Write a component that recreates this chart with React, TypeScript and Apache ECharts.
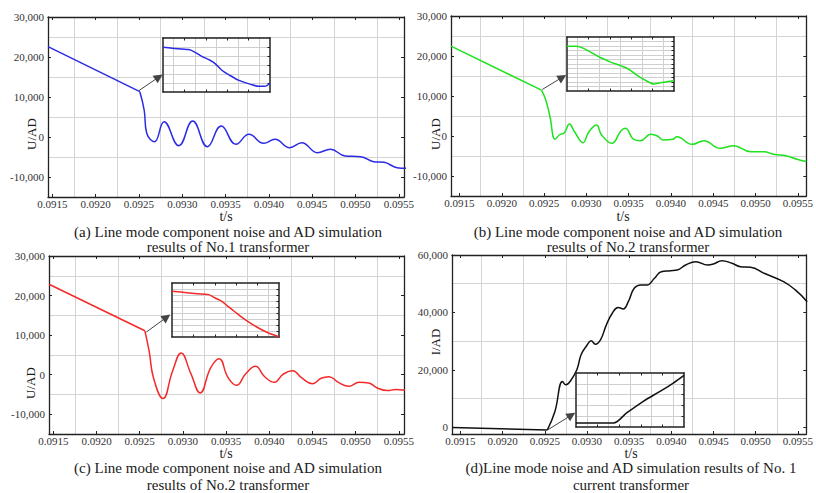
import React, { useEffect, useRef } from 'react';
import * as echarts from 'echarts';

const SERIF = 'Liberation Serif, Times New Roman, serif';
const GRID_C = '#d4d4d4';
const AXIS_C = '#222';

// shared tick values
const X_LABELS = [0.0915, 0.092, 0.0925, 0.093, 0.0935, 0.094, 0.0945, 0.095, 0.0955];
const X_GRID = [0.09175, 0.09225, 0.09275, 0.09325, 0.09375, 0.09425, 0.09475, 0.09525];
const U_LABELS = [-10000, 0, 10000, 20000, 30000];
const U_GRID = [-5000, 5000, 15000, 25000];
const I_LABELS = [0, 20000, 40000, 60000];
const I_GRID = [10000, 30000, 50000];

// (a) No.1 transformer
const A_T_PRE = [0.09145, 0.09251];
const A_U_PRE = [22580, 11330];
const A_T = [0.09251, 0.09256, 0.09259, 0.09268, 0.09279, 0.09296, 0.09312, 0.09329, 0.09345, 0.09362, 0.09377, 0.09394, 0.09407, 0.09424, 0.09438, 0.09456, 0.09471, 0.09488, 0.09506, 0.09521, 0.09533, 0.09548, 0.0956];
const A_U = [11330, 6750, 925, -1170, 3830, -2170, 4000, -2420, 2750, -1830, 670, -1580, -580, -2670, -1420, -3920, -3080, -4750, -4920, -6170, -6330, -7670, -7830];

// (b) No.2 transformer
const B_T_PRE = [0.0914, 0.09247];
const B_U_PRE = [22450, 11470];
const B_T = [0.09247, 0.09252, 0.09257, 0.09263, 0.09268, 0.09274, 0.0928, 0.09286, 0.09296, 0.09303, 0.09312, 0.09318, 0.0933, 0.09341, 0.09346, 0.09356, 0.09364, 0.09376, 0.09384, 0.09391, 0.09402, 0.09407, 0.09425, 0.09439, 0.09458, 0.09474, 0.09494, 0.0951, 0.09521, 0.09537, 0.09549, 0.0956];
const B_U = [11470, 8980, 4810, -830, 250, 830, 2990, 1070, -1670, 1070, 2740, 250, -1830, 1320, 1910, -830, -1160, 420, 0, -1000, -830, -170, -2080, -1160, -3080, -2410, -3910, -3910, -4570, -4990, -5810, -6400];

// (c) No.2 transformer
const C_T_PRE = [0.09145, 0.09256];
const C_U_PRE = [22850, 11090];
const C_T = [0.09256, 0.09261, 0.09266, 0.09277, 0.09288, 0.09298, 0.09309, 0.0932, 0.09332, 0.09342, 0.09352, 0.09362, 0.09373, 0.09384, 0.09395, 0.09406, 0.09416, 0.09427, 0.09438, 0.0945, 0.0946, 0.09469, 0.0948, 0.09492, 0.09504, 0.09515, 0.09525, 0.09537, 0.09546, 0.09557];
const C_U = [11090, 5880, -840, -6050, 840, 5470, 400, -4620, 1680, 4030, -600, -2690, 300, 2100, -600, -1930, 100, 1010, -900, -2270, -900, -500, -1930, -2940, -1930, -2100, -3360, -4030, -3780, -3950];

// (d) No.1 current transformer
const D_T_PRE = [0.0914, 0.09253];
const D_I_PRE = [0, -900];
const D_T = [0.09253, 0.09262, 0.09271, 0.09275, 0.0928, 0.09288, 0.09293, 0.09299, 0.09305, 0.0931, 0.09316, 0.09323, 0.0933, 0.09337, 0.09343, 0.09349, 0.09356, 0.09364, 0.09371, 0.0938, 0.09388, 0.09399, 0.09407, 0.09417, 0.09429, 0.09443, 0.0945, 0.0946, 0.09472, 0.09482, 0.09494, 0.0951, 0.09533, 0.09547, 0.09561];
const D_I = [-900, 5560, 15980, 14830, 15980, 20050, 25260, 28150, 30120, 28960, 30470, 35680, 39740, 41690, 41240, 43770, 48430, 49580, 49580, 51900, 54200, 54550, 54790, 56520, 57670, 56520, 56870, 58020, 57100, 55930, 55720, 53640, 50720, 47840, 43770];

// zoomed insets (relative units)
const IA_X = [0, 0.84, 2.4, 2.88, 3.66, 4.44, 4.9, 5.53, 6.16, 7.1, 8.19, 8.97, 9.44, 9.75, 10];
const IA_Y = [4.97, 4.86, 4.71, 4.49, 3.94, 3.5, 3.13, 2.39, 1.91, 1.29, 0.85, 0.63, 0.63, 0.74, 0.99];
const IB_X = [0, 0.78, 1.4, 2.17, 3.1, 4.04, 5.12, 5.75, 6.52, 7.3, 8.14, 8.7, 9.32, 10];
const IB_Y = [9.94, 9.94, 9.64, 8.69, 7.44, 6.48, 5.52, 4.86, 3.53, 2.43, 1.55, 1.84, 2.06, 2.28];
const IC_X = [0, 1.4, 2.33, 3.42, 4.04, 4.66, 5.12, 5.9, 6.83, 7.92, 9.01, 10];
const IC_Y = [7.61, 7.39, 7.22, 7.06, 6.5, 5.94, 5.28, 4.17, 2.89, 1.67, 0.67, 0.06];
const ID_X = [0, 3.46, 4.69, 6.23, 7.78, 9.01, 10];
const ID_Y = [0.37, 0.37, 1.3, 2.38, 3.3, 4.07, 4.78];

// arrows: [from, to] in data units
const A_ARROW = [[0.0925, 11600], [0.09273, 15000]];
const B_ARROW = [[0.09248, 11650], [0.092717, 14690]];
const C_ARROW = [[0.092576, 10760], [0.092812, 14515]];
const D_ARROW = [[0.092533, -900], [0.092816, 4270]];

const zip = (a: number[], b: number[]) => a.map((v, i) => [v, b[i]]);

function fmtNum(v: number): string {
  if (Math.abs(v) < 1e-9) return '0';
  const s = Math.abs(Math.round(v)).toString().replace(/\B(?=(\d{3})+(?!\d))/g, ',');
  return (v < 0 ? '-' : '') + s;
}

const PANELS = [
  {
    grid: { left: 48, top: 17, width: 356, height: 180 },
    xMin: 0.09145, xMax: 0.09556, yMin: -15000, yMax: 30000,
    yLabels: U_LABELS, yGrid: U_GRID, color: '#2b2be6',
    pre: zip(A_T_PRE, A_U_PRE), post: zip(A_T, A_U), arrow: A_ARROW,
    inset: { left: 163, top: 38, width: 107, height: 54, data: zip(IA_X, IA_Y), yMax: 6 },
    yName: 'U/AD', yNamePos: [31, 134], tPos: [226, 216],
    caption: ['(a) Line mode component noise and AD simulation', 'results of No.1 transformer'],
    capPos: [[228, 232], [228, 246.5]],
  },
  {
    grid: { left: 451, top: 16, width: 357, height: 180 },
    xMin: 0.0914, xMax: 0.0956, yMin: -15000, yMax: 30000,
    yLabels: U_LABELS, yGrid: U_GRID, color: '#1ee21e',
    pre: zip(B_T_PRE, B_U_PRE), post: zip(B_T, B_U), arrow: B_ARROW,
    inset: { left: 567, top: 37, width: 107, height: 54, data: zip(IB_X, IB_Y), yMax: 12 },
    yName: 'U/AD', yNamePos: [435, 134], tPos: [623, 216],
    caption: ['(b) Line mode component noise and AD simulation', 'results of No.2 transformer'],
    capPos: [[628, 232], [628, 246.5]],
  },
  {
    grid: { left: 49, top: 256, width: 355, height: 178 },
    xMin: 0.09145, xMax: 0.09556, yMin: -15000, yMax: 30000,
    yLabels: U_LABELS, yGrid: U_GRID, color: '#f42a2a',
    pre: zip(C_T_PRE, C_U_PRE), post: zip(C_T, C_U), arrow: C_ARROW,
    inset: { left: 172, top: 283, width: 107, height: 54, data: zip(IC_X, IC_Y), yMax: 9 },
    yName: 'U/AD', yNamePos: [30, 383], tPos: [226, 453],
    caption: ['(c) Line mode component noise and AD simulation', 'results of No.2 transformer'],
    capPos: [[228, 468], [228, 485]],
  },
  {
    grid: { left: 452, top: 255, width: 356, height: 179 },
    xMin: 0.0914, xMax: 0.0956, yMin: -2300, yMax: 60000,
    yLabels: I_LABELS, yGrid: I_GRID, color: '#111111',
    pre: zip(D_T_PRE, D_I_PRE), post: zip(D_T, D_I), arrow: D_ARROW,
    inset: { left: 576, top: 373, width: 108, height: 54, data: zip(ID_X, ID_Y), yMax: 5 },
    yName: 'I/AD', yNamePos: [435, 342], tPos: [631, 453],
    caption: ['(d)Line mode noise and AD simulation results of No. 1', 'current transformer'],
    capPos: [[631, 468], [631, 485]],
  },
];

function range(a: number, b: number): number[] {
  const r: number[] = [];
  for (let i = a; i <= b; i++) r.push(i);
  return r;
}

function textEl(text: string, x: number, y: number, size: number, rotation = 0) {
  return {
    type: 'text', x, y, rotation, silent: true,
    style: {
      text, fontFamily: SERIF, fontSize: size, fill: '#1a1a1a',
      textAlign: 'center', textVerticalAlign: 'middle', align: 'center', verticalAlign: 'middle',
    },
  };
}

function buildOption() {
  const grid: any[] = [];
  const xAxis: any[] = [];
  const yAxis: any[] = [];
  const series: any[] = [];
  const graphic: any[] = [];
  const lineSt = { color: AXIS_C, width: 1.3 };
  const tickSt = { color: AXIS_C, width: 1 };

  PANELS.forEach((p) => {
    // ---- main plot ----
    const gi = grid.length;
    grid.push({ ...p.grid, show: false });
    const xi = xAxis.length;
    const bx = { type: 'value', gridIndex: gi, min: p.xMin, max: p.xMax };
    xAxis.push({
      ...bx, position: 'bottom',
      axisLine: { show: true, onZero: false, lineStyle: lineSt },
      axisTick: { show: true, inside: true, length: 3, customValues: X_LABELS, lineStyle: tickSt },
      axisLabel: { show: true, customValues: X_LABELS, formatter: (v: number) => v.toFixed(4), fontFamily: SERIF, fontSize: 11, color: '#333', margin: 1 },
      splitLine: { show: false },
    });
    xAxis.push({
      ...bx, position: 'top',
      axisLine: { show: true, onZero: false, lineStyle: lineSt },
      axisTick: { show: true, inside: true, length: 3, customValues: X_LABELS, lineStyle: tickSt },
      axisLabel: { show: false }, splitLine: { show: false },
    });
    xAxis.push({
      ...bx, position: 'bottom',
      axisLine: { show: false, onZero: false },
      axisTick: { show: false, customValues: X_GRID },
      axisLabel: { show: false },
      splitLine: { show: true, lineStyle: { color: GRID_C, width: 1 } },
    });
    const yi = yAxis.length;
    const by = { type: 'value', gridIndex: gi, min: p.yMin, max: p.yMax };
    yAxis.push({
      ...by, position: 'left',
      axisLine: { show: true, onZero: false, lineStyle: lineSt },
      axisTick: { show: true, inside: true, length: 3, customValues: p.yLabels, lineStyle: tickSt },
      axisLabel: { show: true, customValues: p.yLabels, formatter: fmtNum, fontFamily: SERIF, fontSize: 11, color: '#333', margin: 4 },
      splitLine: { show: false },
    });
    yAxis.push({
      ...by, position: 'right',
      axisLine: { show: true, onZero: false, lineStyle: lineSt },
      axisTick: { show: true, inside: true, length: 3, customValues: p.yLabels, lineStyle: tickSt },
      axisLabel: { show: false }, splitLine: { show: false },
    });
    yAxis.push({
      ...by, position: 'left',
      axisLine: { show: false, onZero: false },
      axisTick: { show: false, customValues: p.yGrid },
      axisLabel: { show: false },
      splitLine: { show: true, lineStyle: { color: GRID_C, width: 1 } },
    });
    const ls = { color: p.color, width: 1.5 };
    series.push({
      type: 'line', xAxisIndex: xi, yAxisIndex: yi, data: p.pre,
      symbol: 'none', showSymbol: false, lineStyle: ls, itemStyle: { color: p.color }, z: 3, silent: true,
    });
    series.push({
      type: 'line', xAxisIndex: xi, yAxisIndex: yi, data: p.post, smooth: 0.45,
      symbol: 'none', showSymbol: false, lineStyle: ls, itemStyle: { color: p.color }, z: 3, silent: true,
    });
    // arrow pointing to the zoomed inset
    series.push({
      type: 'line', xAxisIndex: xi, yAxisIndex: yi, data: [], z: 13, silent: true,
      symbol: 'none', lineStyle: { width: 0 },
      markLine: {
        silent: true, symbol: ['none', 'triangle'], symbolSize: 9,
        label: { show: false },
        itemStyle: { color: '#111' },
        lineStyle: { color: '#444', width: 1, type: 'solid' },
        data: [[{ coord: p.arrow[0] }, { coord: p.arrow[1] }]],
      },
    });

    // ---- inset ----
    const ins = p.inset;
    const ig = grid.length;
    grid.push({ left: ins.left, top: ins.top, width: ins.width, height: ins.height, show: true, backgroundColor: '#ffffff', borderWidth: 0, z: 10 });
    const ixi = xAxis.length;
    const ibx = { type: 'value', gridIndex: ig, min: 0, max: 10, z: 11 };
    const insLine = { color: AXIS_C, width: 1.5 };
    xAxis.push({
      ...ibx, position: 'bottom',
      axisLine: { show: true, onZero: false, lineStyle: insLine },
      axisTick: { show: true, inside: true, length: 2.5, customValues: [2, 4, 6, 8], lineStyle: tickSt },
      axisLabel: { show: false }, splitLine: { show: false },
    });
    xAxis.push({
      ...ibx, position: 'top',
      axisLine: { show: true, onZero: false, lineStyle: insLine },
      axisTick: { show: true, inside: true, length: 2.5, customValues: [2, 4, 6, 8], lineStyle: tickSt },
      axisLabel: { show: false }, splitLine: { show: false },
    });
    xAxis.push({
      ...ibx, position: 'bottom',
      axisLine: { show: false, onZero: false },
      axisTick: { show: false, customValues: [1, 3, 5, 7, 9] },
      axisLabel: { show: false },
      splitLine: { show: true, lineStyle: { color: '#cfcfcf', width: 1 } },
    });
    const iyi = yAxis.length;
    const iby = { type: 'value', gridIndex: ig, min: 0, max: ins.yMax, z: 11 };
    yAxis.push({
      ...iby, position: 'left',
      axisLine: { show: true, onZero: false, lineStyle: insLine },
      axisTick: { show: false }, axisLabel: { show: false }, splitLine: { show: false },
    });
    yAxis.push({
      ...iby, position: 'right',
      axisLine: { show: true, onZero: false, lineStyle: insLine },
      axisTick: { show: true, inside: true, length: 2.5, customValues: range(1, ins.yMax - 1), lineStyle: tickSt },
      axisLabel: { show: false },
      splitLine: { show: true, lineStyle: { color: '#cfcfcf', width: 1 } },
    });
    series.push({
      type: 'line', xAxisIndex: ixi, yAxisIndex: iyi, data: ins.data, smooth: 0.3,
      symbol: 'none', showSymbol: false, lineStyle: { color: p.color, width: 1.5 }, itemStyle: { color: p.color }, z: 12, silent: true,
    });

    // ---- texts ----
    graphic.push(textEl(p.yName, p.yNamePos[0], p.yNamePos[1], 13, Math.PI / 2));
    graphic.push(textEl('t/s', p.tPos[0], p.tPos[1], 14));
    p.caption.forEach((c, k) => {
      graphic.push(textEl(c, p.capPos[k][0], p.capPos[k][1], 15));
    });
  });

  return { animation: false, backgroundColor: '#ffffff', grid, xAxis, yAxis, series, graphic };
}

export default function App() {
  const ref = useRef<HTMLDivElement>(null);
  useEffect(() => {
    if (!ref.current) return;
    const chart = echarts.init(ref.current, undefined, { renderer: 'svg' });
    chart.setOption(buildOption() as any);
    return () => chart.dispose();
  }, []);
  return (
    <div
      ref={ref}
      style={{ position: 'fixed', left: 0, top: 0, width: 816, height: 493, background: '#fff' }}
    />
  );
}
